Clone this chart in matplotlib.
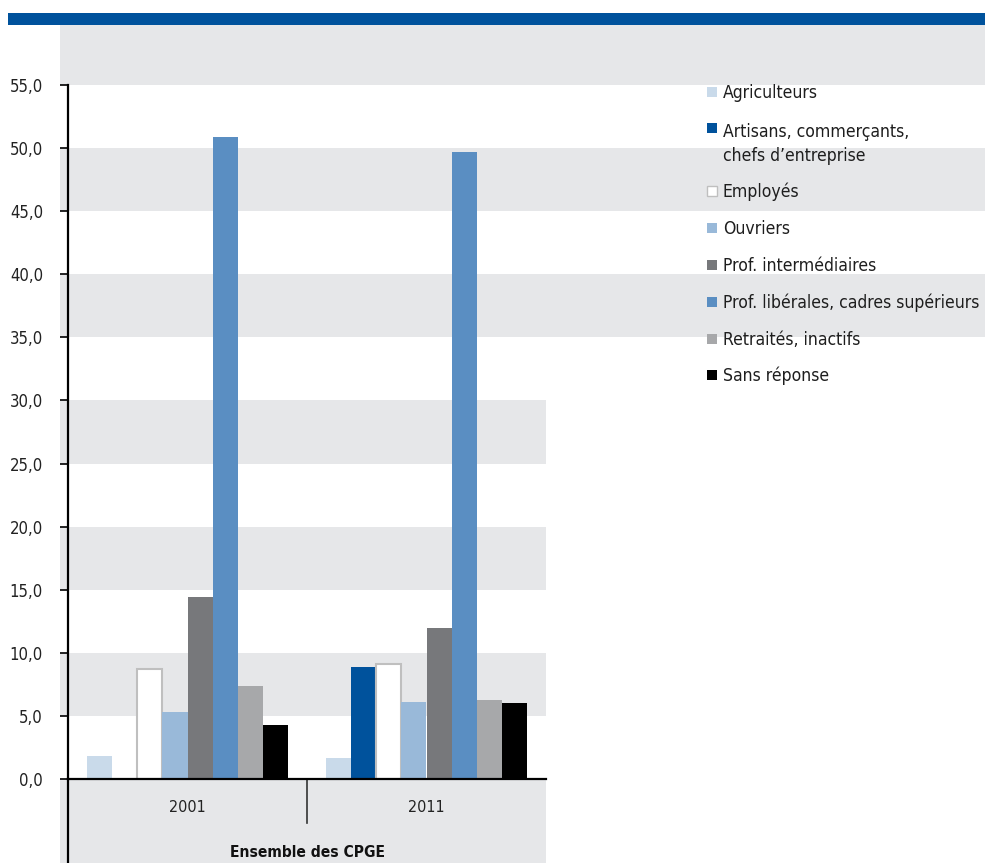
import numpy as np
import matplotlib
matplotlib.use("Agg")
import matplotlib.pyplot as plt
from matplotlib.patches import Rectangle
from matplotlib.transforms import Affine2D

plt.rcParams['font.family'] = ['DejaVu Sans']
plt.rcParams['font.stretch'] = 'condensed'

# Origine sociale des élèves de CPGE (en %)
years = ['2001', '2011']
labels = ['Agriculteurs',
          'Artisans, commerçants,\nchefs d\u2019entreprise',
          'Employés',
          'Ouvriers',
          'Prof. intermédiaires',
          'Prof. libérales, cadres supérieurs',
          'Retraités, inactifs',
          'Sans réponse']
agriculteurs = [1.8, 1.7]
artisans = [np.nan, 8.9]
employes = [8.7, 9.1]
ouvriers = [5.3, 6.1]
prof_inter = [14.4, 12.0]
prof_lib = [50.9, 49.7]
retraites = [7.4, 6.3]
sans_reponse = [4.3, 6.0]
yticks = np.arange(0, 60, 5)

series = [agriculteurs, artisans, employes, ouvriers,
          prof_inter, prof_lib, retraites, sans_reponse]
colors = ['#C9DAEA', '#00529C', '#FFFFFF', '#99B9D9',
          '#77787B', '#5A8EC2', '#A7A8AA', '#000000']
edges = [None, None, '#BFBFBF', None, None, None, None, None]

stripe = '#E6E7E9'
W, H = 985, 863
fig = plt.figure(figsize=(W / 100, H / 100), dpi=100)
px = Affine2D().scale(1 / W, -1 / H).translate(0, 1) + fig.transFigure

ax = fig.add_axes([68 / W, (H - 779) / H, (546 - 68) / W, 694 / H])
ax.patch.set_visible(False)
ax.set_xlim(-0.5, 1.5)
ax.set_ylim(0, 55)

# bandes grises de fond
left_ext = (60 - 68) / 478
right_ext = (985 - 68) / 478
for lo in range(5, 55, 10):
    ax.axhspan(lo, lo + 5, xmin=left_ext, xmax=right_ext if lo >= 35 else 1,
               color=stripe, lw=0, zorder=0, clip_on=False)
ax.axhspan(-10, 0, xmin=left_ext, xmax=1, color=stripe, lw=0, zorder=0, clip_on=False)
fig.add_artist(Rectangle((60, 25), 925, 60, transform=px, color=stripe, lw=0, zorder=0))
fig.add_artist(Rectangle((8, 13), 977, 12.5, transform=px, color='#00529C', lw=0))

x = np.arange(len(years))
width = 0.105
for i, (vals, col, ec) in enumerate(zip(series, colors, edges)):
    ax.bar(x + (i - 3.5) * width, vals, width, color=col,
           edgecolor=ec if ec else col, linewidth=1.5 if ec else 0, zorder=2)

for side in ['top', 'right']:
    ax.spines[side].set_visible(False)
for side in ['left', 'bottom']:
    ax.spines[side].set_linewidth(1.6)
    ax.spines[side].set_zorder(3)
ax.axvline(-0.5, ymin=-0.15, ymax=0, color='black', lw=1.6, clip_on=False)
ax.axvline(0.5, ymin=-(823 - 779) / 694, ymax=0, color='#333333', lw=1.2, clip_on=False)

ax.set_yticks(yticks, labels=[f'{v:.1f}'.replace('.', ',') for v in yticks])
ax.tick_params(axis='y', length=6, width=1.2, pad=12, labelsize=12, labelcolor='#222222')
ax.set_xticks(x, labels=years)
ax.tick_params(axis='x', length=0, pad=15, labelsize=11.5, labelcolor='#222222')

fig.text(307, 857, 'Ensemble des CPGE', transform=px, ha='center', va='baseline',
         fontsize=11.2, fontweight='bold', color='#111111')

# légende : ligne de base du repère et du (dernier) texte
marks = [98, 134, 197, 234, 271, 308, 345, 381]
texts = [98, 161, 197, 234, 271, 308, 345, 381]
for lab, col, ec, mb, tb in zip(labels, colors, edges, marks, texts):
    fig.add_artist(Rectangle((706.5, mb - 11), 10, 10, transform=px, facecolor=col,
                             edgecolor=ec if ec else col, lw=1 if ec else 0))
    fig.text(723, tb, lab, transform=px, va='baseline', fontsize=12.6,
             color='#1e1e1e', linespacing=1.45)

fig.savefig('out.png', dpi=100)
